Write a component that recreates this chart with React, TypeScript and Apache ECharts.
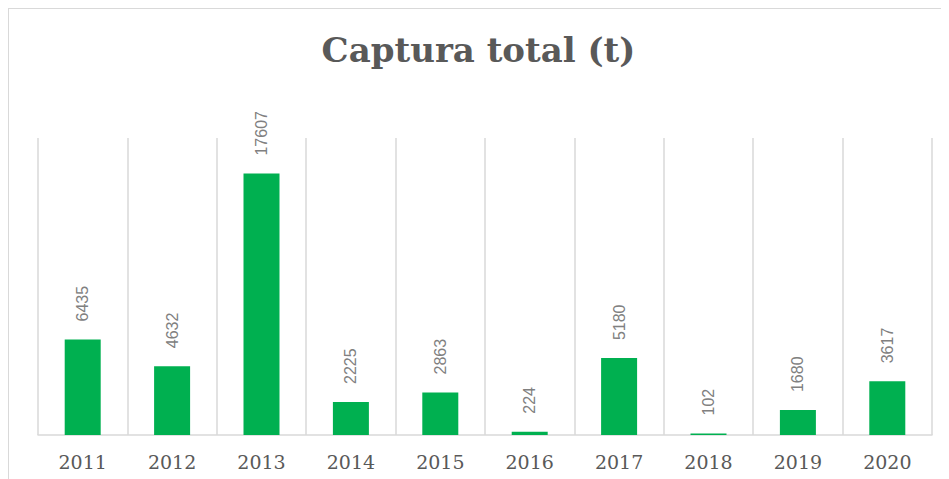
import React, { useEffect, useRef } from "react";
import * as echarts from "echarts";

const categories = ["2011", "2012", "2013", "2014", "2015", "2016", "2017", "2018", "2019", "2020"];
const capturaValues = [6435, 4632, 17607, 2225, 2863, 224, 5180, 102, 1680, 3617];
const titleText = "Captura total (t)";

export default function App() {
  const ref = useRef<HTMLDivElement>(null);
  useEffect(() => {
    if (!ref.current) return;
    const chart = echarts.init(ref.current, undefined, { renderer: "svg" });
    chart.setOption({
      animation: false,
      backgroundColor: "#ffffff",
      title: {
        text: titleText,
        left: "center",
        top: 20,
        textStyle: {
          fontFamily: "DejaVu Serif",
          fontWeight: "bold",
          fontSize: 34,
          color: "#595959",
        },
      },
      graphic: [
        {
          type: "rect",
          shape: { x: 0, y: 0, width: 1000, height: 600 },
          style: { fill: "none", stroke: "#d9d9d9", lineWidth: 2 },
          silent: true,
        },
      ],
      grid: { left: 30, right: 17, top: 130, bottom: 44 },
      xAxis: {
        type: "category",
        data: categories,
        boundaryGap: true,
        axisLine: { show: true, lineStyle: { color: "#d9d9d9", width: 1.5 } },
        axisTick: { show: false },
        splitLine: { show: true, lineStyle: { color: "#d9d9d9", width: 1.5 } },
        axisLabel: {
          margin: 17,
          fontFamily: "DejaVu Serif",
          fontSize: 19,
          color: "#595959",
        },
      },
      yAxis: {
        type: "value",
        min: 0,
        max: 20000,
        show: false,
        splitLine: { show: false },
      },
      series: [
        {
          type: "bar",
          data: capturaValues,
          barWidth: 36,
          itemStyle: { color: "#00b050" },
          label: {
            show: true,
            position: "top",
            rotate: 90,
            align: "left",
            verticalAlign: "middle",
            distance: 18,
            fontFamily: "Liberation Sans",
            fontSize: 16,
            color: "#808080",
          },
        },
      ],
    });
    return () => chart.dispose();
  }, []);
  return <div ref={ref} style={{ width: 941, height: 471 }} />;
}
